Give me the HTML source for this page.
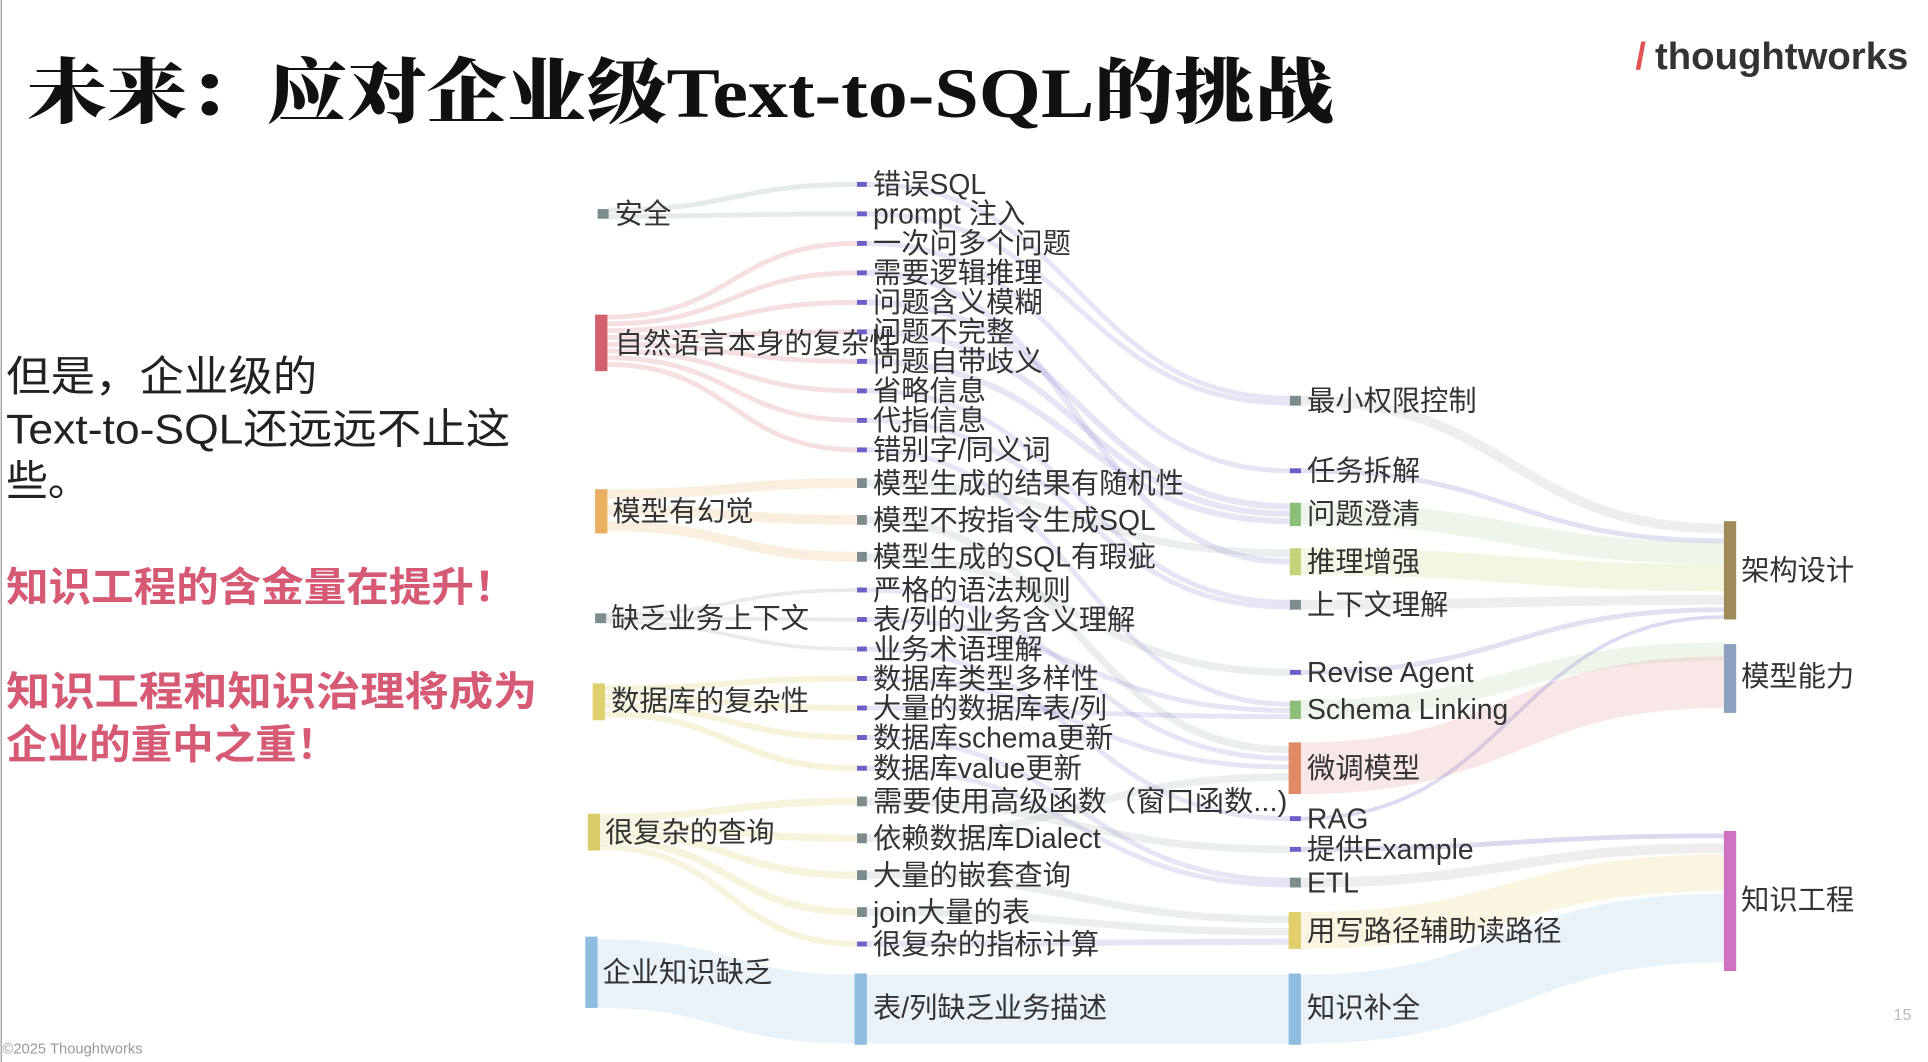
<!DOCTYPE html>
<html><head><meta charset="utf-8">
<style>
html,body{margin:0;padding:0;background:#fff;}
svg{display:block;}
text{font-family:"Liberation Sans","Noto Sans CJK SC",sans-serif;fill:#333;}
.n{font-size:23px;}
</style></head>
<body>
<svg id="s" width="1928" height="1062" viewBox="0 0 1568 864" preserveAspectRatio="none" xmlns="http://www.w3.org/2000/svg">
<rect width="1568" height="864" fill="#fff"/>
<line x1="1" y1="0" x2="1" y2="864" stroke="#999" stroke-width="1"/>
<g id="links"></g>
<!-- title -->
<text x="22" y="95" style="font-family:'Liberation Serif','Noto Serif CJK SC',serif;font-size:58px;font-weight:900;fill:#111" textLength="1063" lengthAdjust="spacingAndGlyphs">未来：应对企业级Text-to-SQL的挑战</text>
<text x="1330" y="56" style="font-size:31px;font-weight:bold;fill:#e0554f">/</text>
<text x="1346" y="56" style="font-size:31px;font-weight:bold;fill:#333" textLength="206" lengthAdjust="spacingAndGlyphs">thoughtworks</text>
<!-- left text -->
<text x="5" y="318" style="font-size:34px;fill:#222" textLength="253" lengthAdjust="spacingAndGlyphs">但是，企业级的</text>
<text x="5" y="361" style="font-size:34px;fill:#222" textLength="410" lengthAdjust="spacingAndGlyphs">Text-to-SQL还远远不止这</text>
<text x="5" y="403" style="font-size:34px;fill:#222">些。</text>
<text x="5" y="489" style="font-size:33px;fill:#d65a74;font-weight:bold" textLength="415" lengthAdjust="spacingAndGlyphs">知识工程的含金量在提升！</text>
<text x="5" y="574" style="font-size:33px;fill:#d65a74;font-weight:bold" textLength="432" lengthAdjust="spacingAndGlyphs">知识工程和知识治理将成为</text>
<text x="5" y="617" style="font-size:33px;fill:#d65a74;font-weight:bold" textLength="270" lengthAdjust="spacingAndGlyphs">企业的重中之重！</text>
<text x="2" y="857" style="font-size:12px;fill:#999">©2025  Thoughtworks</text>
<text x="1540" y="830" style="font-size:13px;fill:#bbb">15</text>
<!-- col1 -->
<rect x="486" y="170" width="9" height="8" fill="#7f8c8d"/><text class="n" x="500" y="182">安全</text>
<rect x="484" y="256" width="10" height="46" fill="#d0606b"/><text class="n" x="500" y="287">自然语言本身的复杂性</text>
<rect x="484" y="398" width="10" height="36" fill="#e8b060"/><text class="n" x="498" y="424">模型有幻觉</text>
<rect x="484" y="499" width="9" height="8" fill="#7f8c8d"/><text class="n" x="497" y="511">缺乏业务上下文</text>
<rect x="482" y="556" width="10" height="30" fill="#ded06c"/><text class="n" x="497" y="578">数据库的复杂性</text>
<rect x="478" y="662" width="10" height="30" fill="#d9cd6a"/><text class="n" x="492" y="685">很复杂的查询</text>
<rect x="476" y="762" width="10" height="58" fill="#8fbde0"/><text class="n" x="490" y="799">企业知识缺乏</text>
<!-- col2 -->
<g id="c2"></g>
<text class="n" x="710" y="158">错误SQL</text>
<text class="n" x="710" y="182">prompt 注入</text>
<text class="n" x="710" y="206">一次问多个问题</text>
<text class="n" x="710" y="230">需要逻辑推理</text>
<text class="n" x="710" y="254">问题含义模糊</text>
<text class="n" x="710" y="278">问题不完整</text>
<text class="n" x="710" y="302">问题自带歧义</text>
<text class="n" x="710" y="326">省略信息</text>
<text class="n" x="710" y="350">代指信息</text>
<text class="n" x="710" y="374">错别字/同义词</text>
<text class="n" x="710" y="401">模型生成的结果有随机性</text>
<text class="n" x="710" y="431">模型不按指令生成SQL</text>
<text class="n" x="710" y="461">模型生成的SQL有瑕疵</text>
<text class="n" x="710" y="488">严格的语法规则</text>
<text class="n" x="710" y="512">表/列的业务含义理解</text>
<text class="n" x="710" y="536">业务术语理解</text>
<text class="n" x="710" y="560">数据库类型多样性</text>
<text class="n" x="710" y="584">大量的数据库表/列</text>
<text class="n" x="710" y="608">数据库schema更新</text>
<text class="n" x="710" y="633">数据库value更新</text>
<text class="n" x="710" y="660" textLength="337" lengthAdjust="spacingAndGlyphs">需要使用高级函数（窗口函数...)</text>
<text class="n" x="710" y="690">依赖数据库Dialect</text>
<text class="n" x="710" y="720">大量的嵌套查询</text>
<text class="n" x="710" y="750">join大量的表</text>
<text class="n" x="710" y="776">很复杂的指标计算</text>
<rect x="695" y="792" width="10" height="58" fill="#8fbde0"/><text class="n" x="710" y="828">表/列缺乏业务描述</text>
<!-- col3 -->
<rect x="1049" y="322" width="9" height="8" fill="#7f8c8d"/><text class="n" x="1063" y="334">最小权限控制</text>
<rect x="1049" y="381" width="9" height="4" fill="#6c5fc7"/><text class="n" x="1063" y="391">任务拆解</text>
<rect x="1049" y="409" width="9" height="19" fill="#8cc07a"/><text class="n" x="1063" y="426">问题澄清</text>
<rect x="1049" y="446" width="9" height="22" fill="#c6d27a"/><text class="n" x="1063" y="465">推理增强</text>
<rect x="1049" y="488" width="9" height="8" fill="#7f8c8d"/><text class="n" x="1063" y="500">上下文理解</text>
<rect x="1049" y="545" width="9" height="4" fill="#6c5fc7"/><text class="n" x="1063" y="555">Revise Agent</text>
<rect x="1049" y="570" width="9" height="15" fill="#8cc07a"/><text class="n" x="1063" y="585">Schema Linking</text>
<rect x="1048" y="604" width="10" height="42" fill="#e08a68"/><text class="n" x="1063" y="633">微调模型</text>
<rect x="1049" y="664" width="9" height="4" fill="#6c5fc7"/><text class="n" x="1063" y="674">RAG</text>
<rect x="1049" y="689" width="9" height="4" fill="#6c5fc7"/><text class="n" x="1063" y="699">提供Example</text>
<rect x="1049" y="714" width="9" height="8" fill="#7f8c8d"/><text class="n" x="1063" y="726">ETL</text>
<rect x="1048" y="742" width="10" height="30" fill="#e0cf6a"/><text class="n" x="1063" y="765">用写路径辅助读路径</text>
<rect x="1048" y="792" width="10" height="58" fill="#8fbde0"/><text class="n" x="1063" y="828">知识补全</text>
<!-- col4 -->
<rect x="1402" y="424" width="10" height="80" fill="#a08a5a"/><text class="n" x="1416" y="472">架构设计</text>
<rect x="1402" y="524" width="10" height="56" fill="#8ea0c0"/><text class="n" x="1416" y="558">模型能力</text>
<rect x="1402" y="676" width="10" height="114" fill="#d070c0"/><text class="n" x="1416" y="740">知识工程</text>
<script>
(function(){
var NS="http://www.w3.org/2000/svg";
var g=document.getElementById('links'),c2=document.getElementById('c2');
function L(x0,y0,x1,y1,w,col,op){var p=document.createElementNS(NS,'path');var m=(x0+x1)/2;
p.setAttribute('d','M'+x0+' '+y0+' C'+m+' '+y0+' '+m+' '+y1+' '+x1+' '+y1);
p.setAttribute('fill','none');p.setAttribute('stroke',col);p.setAttribute('stroke-width',w);p.setAttribute('stroke-opacity',op||0.22);g.appendChild(p);}
var ys=[150,174,198,222,246,270,294,318,342,366,393,423,453,480,504,528,552,576,600,625,652,682,712,742,768];
var gray=[10,11,12,20,21,22,23];
ys.forEach(function(y,i){var r=document.createElementNS(NS,'rect');
if(gray.indexOf(i)>=0){r.setAttribute('x',697);r.setAttribute('y',y-4);r.setAttribute('width',8);r.setAttribute('height',8);r.setAttribute('fill','#7f8c8d');}
else{r.setAttribute('x',697);r.setAttribute('y',y-2);r.setAttribute('width',8);r.setAttribute('height',4);r.setAttribute('fill','#6c5fc7');}
c2.appendChild(r);});
L(495,171,697,150,4,'#9aa',0.25);L(495,176,697,174,4,'#9aa',0.25);
for(var i=2;i<=9;i++)L(494,258+(i-2)*5.5,697,ys[i],4,'#d0606b',0.2);
L(494,402,697,393,8,'#e8b060',0.2);L(494,415,697,423,8,'#e8b060',0.2);L(494,428,697,453,8,'#e8b060',0.2);
L(493,500,697,480,3,'#aaa',0.25);L(493,503,697,504,3,'#aaa',0.25);L(493,506,697,528,3,'#aaa',0.25);
L(492,560,697,552,5,'#ded06c',0.25);L(492,567,697,576,5,'#ded06c',0.25);L(492,574,697,600,5,'#ded06c',0.25);L(492,581,697,625,5,'#ded06c',0.25);
L(488,665,697,652,6,'#d9cd6a',0.22);L(488,671,697,682,6,'#d9cd6a',0.22);L(488,677,697,712,6,'#d9cd6a',0.22);L(488,683,697,742,6,'#d9cd6a',0.22);L(488,689,697,768,5,'#d9cd6a',0.22);
L(486,792,695,821,56,'#8fbde0',0.2);
var pc='#8c84d0';
L(705,150,1049,324,4,pc);L(705,174,1049,328,4,pc);
L(705,198,1049,383,4,pc);L(705,222,1049,457,5,pc);
L(705,246,1049,412,5,pc);L(705,270,1049,418,5,pc);L(705,294,1049,424,5,pc);
L(705,318,1049,490,4,pc);L(705,342,1049,494,4,pc);L(705,366,1049,573,4,pc);
L(705,393,1049,450,6,'#9aa',0.2);L(705,423,1049,610,6,'#9aa',0.2);L(705,453,1049,547,6,'#9aa',0.2);
L(705,480,1049,617,4,pc);L(705,504,1049,578,4,pc);L(705,528,1049,666,4,pc);
L(705,552,1049,624,4,pc);L(705,576,1049,583,4,pc);L(705,600,1049,716,4,pc);L(705,625,1049,720,4,pc);
L(705,652,1049,691,6,'#9aa',0.2);L(705,682,1049,632,6,'#9aa',0.2);L(705,712,1049,748,6,'#9aa',0.2);L(705,742,1049,758,6,'#9aa',0.2);L(705,768,1049,766,5,pc);
L(705,821,1048,821,56,'#8fbde0',0.2);
L(1058,326,1402,430,8,'#aaa',0.2);L(1058,383,1402,440,4,pc,0.25);L(1058,418,1402,450,18,'#8cc07a',0.15);
L(1058,457,1402,470,22,'#c6d27a',0.2);L(1058,492,1402,488,8,'#aaa',0.2);L(1058,547,1402,496,4,pc,0.25);
L(1058,577,1402,530,15,'#8cc07a',0.15);L(1058,625,1402,555,42,'#e8a0a0',0.25);
L(1058,666,1402,502,3,pc,0.3);L(1058,691,1402,680,4,pc,0.3);L(1058,718,1402,690,8,'#aaa',0.2);
L(1058,757,1402,710,30,'#e0cf6a',0.2);L(1058,821,1402,755,56,'#8fbde0',0.2);
})();
</script>
</svg>
</body></html>
